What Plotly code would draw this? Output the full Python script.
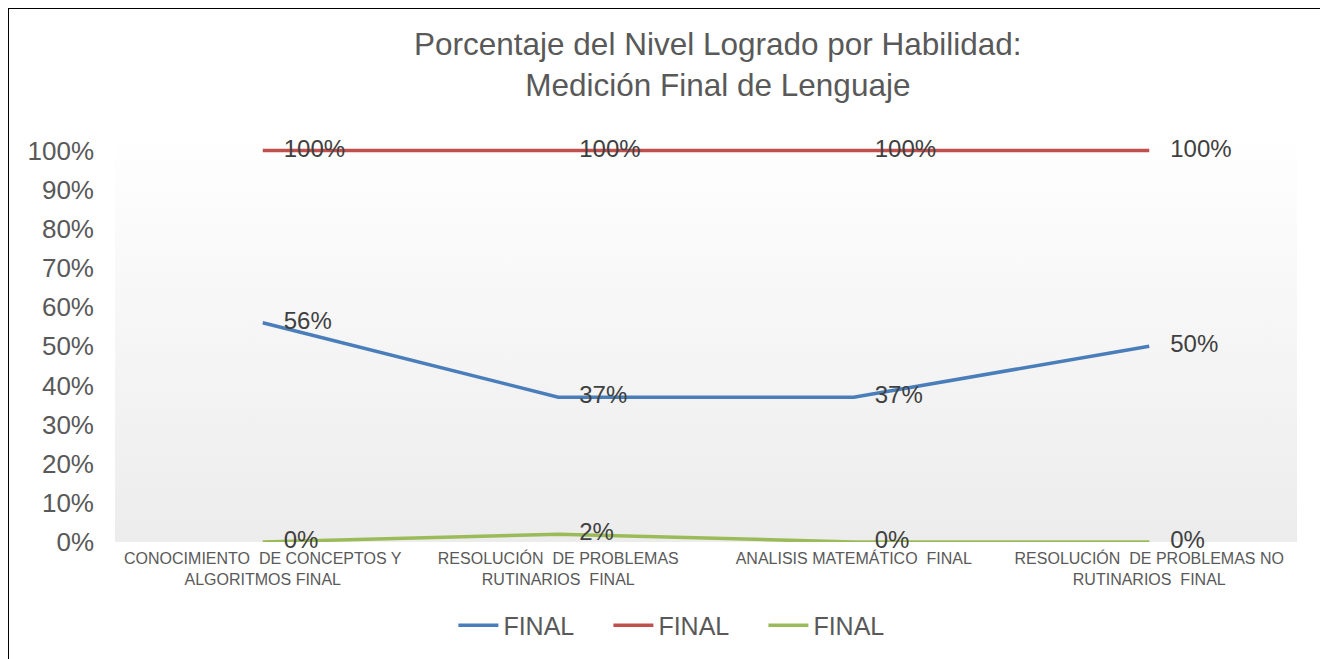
import plotly.graph_objects as go

FONT = "Liberation Sans, Arial, sans-serif"
TEXT_COLOR = "#595959"
LABEL_COLOR = "#404040"
GRID_COLOR = "#d9d9d9"

categories = [
    "CONOCIMIENTO  DE CONCEPTOS Y<br>ALGORITMOS FINAL",
    "RESOLUCIÓN  DE PROBLEMAS<br>RUTINARIOS  FINAL",
    "ANALISIS MATEMÁTICO  FINAL",
    "RESOLUCIÓN  DE PROBLEMAS NO<br>RUTINARIOS  FINAL",
]
logrado = [0.56, 0.37, 0.37, 0.50]
maximo = [1.00, 1.00, 1.00, 1.00]
minimo = [0.00, 0.02, 0.00, 0.00]

series = [
    ("FINAL", logrado, "#4a7ebb"),
    ("FINAL", maximo, "#c0504d"),
    ("FINAL", minimo, "#9bbb59"),
]

x_pos = list(range(len(categories)))
x_lo, x_hi = -0.5, len(categories) - 0.5
y_lo, y_hi = 0.0, 1.05

# page body adds an 8px margin, so the figure is 8px smaller than the window
W, H = 1320, 651
plot_l, plot_r, plot_t, plot_b = 107, 31, 123, 117
plot_w = W - plot_l - plot_r
plot_h = H - plot_t - plot_b

fig = go.Figure()

# plot-area background with a soft vertical gradient
fig.add_trace(
    go.Scatter(
        x=[x_lo, x_hi, x_hi, x_lo, x_lo],
        y=[y_lo, y_lo, y_hi, y_hi, y_lo],
        mode="lines",
        line=dict(width=0),
        fill="toself",
        fillgradient=dict(
            type="vertical",
            start=y_lo,
            stop=y_hi,
            colorscale=[[0, "#ececec"], [1, "#ffffff"]],
        ),
        showlegend=False,
        hoverinfo="skip",
    )
)

for name, values, color in series:
    fig.add_trace(
        go.Scatter(
            x=x_pos,
            y=values,
            mode="lines+markers+text",
            name=name,
            line=dict(color=color, width=3.5),
            marker=dict(size=32, color="rgba(0,0,0,0)"),
            text=[f"{v:.0%}" for v in values],
            textposition="middle right",
            textfont=dict(family=FONT, size=24, color=LABEL_COLOR),
            cliponaxis=False,
        )
    )

# vertical gridlines at each category
for xp in x_pos:
    fig.add_shape(
        type="line", xref="x", yref="y",
        x0=xp, x1=xp, y0=0, y1=1,
        line=dict(color=GRID_COLOR, width=1),
        layer="below",
    )

# outer chart frame
fig.add_shape(
    type="rect", xref="paper", yref="paper",
    x0=(0 - plot_l) / plot_w, x1=(1317 - plot_l) / plot_w,
    y0=(H - plot_b - 700) / plot_h, y1=(H - plot_b - 0) / plot_h,
    line=dict(color="black", width=2),
    fillcolor="rgba(0,0,0,0)",
)

fig.update_layout(
    width=W,
    height=H,
    margin=dict(l=plot_l, r=plot_r, t=plot_t, b=plot_b, autoexpand=False),
    paper_bgcolor="white",
    plot_bgcolor="white",
    font=dict(family=FONT, color=TEXT_COLOR),
    title=dict(
        text="Porcentaje del Nivel Logrado por Habilidad:<br>Medición Final de Lenguaje",
        font=dict(family=FONT, size=31.5, color=TEXT_COLOR),
        x=0.51,
        xref="paper",
        xanchor="center",
        y=0.928,
        yanchor="top",
    ),
    showlegend=True,
    legend=dict(
        orientation="h",
        x=0.483,
        xanchor="center",
        y=-0.203,
        yanchor="middle",
        font=dict(family=FONT, size=25, color=TEXT_COLOR),
        itemwidth=40,
        entrywidth=100,
        bgcolor="rgba(0,0,0,0)",
    ),
    xaxis=dict(
        range=[x_lo, x_hi],
        tickvals=x_pos,
        ticktext=categories,
        tickfont=dict(family=FONT, size=16, color=TEXT_COLOR),
        showgrid=False,
        zeroline=False,
        showline=False,
        ticks="",
        ticklabelstandoff=5,
    ),
    yaxis=dict(
        range=[y_lo, y_hi],
        tickvals=[i / 10 for i in range(11)],
        tickformat=".0%",
        tickfont=dict(family=FONT, size=26, color=TEXT_COLOR),
        showgrid=False,
        zeroline=False,
        showline=False,
        ticks="",
        ticklabelstandoff=20,
    ),
)

fig.write_html("out.html")
